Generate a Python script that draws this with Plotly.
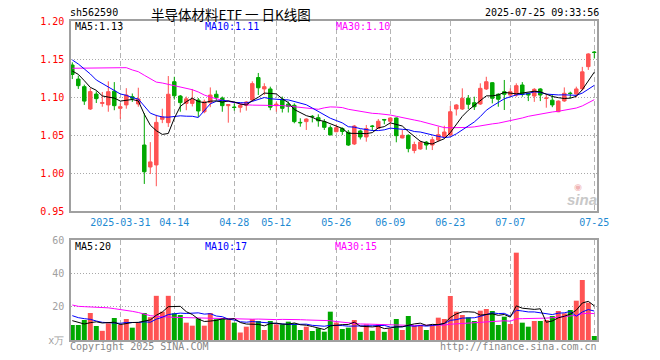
import plotly.graph_objects as go

# ---------------- data ----------------
dates = [
    "2025-03-19", "2025-03-20", "2025-03-21", "2025-03-24", "2025-03-25", "2025-03-26", "2025-03-27", "2025-03-28",
    "2025-03-31", "2025-04-01", "2025-04-02", "2025-04-03", "2025-04-07", "2025-04-08", "2025-04-09", "2025-04-10",
    "2025-04-11", "2025-04-14", "2025-04-15", "2025-04-16", "2025-04-17", "2025-04-18", "2025-04-21", "2025-04-22",
    "2025-04-23", "2025-04-24", "2025-04-25", "2025-04-28", "2025-04-29", "2025-04-30", "2025-05-06", "2025-05-07",
    "2025-05-08", "2025-05-09", "2025-05-12", "2025-05-13", "2025-05-14", "2025-05-15", "2025-05-16", "2025-05-19",
    "2025-05-20", "2025-05-21", "2025-05-22", "2025-05-23", "2025-05-26", "2025-05-27", "2025-05-28", "2025-05-29",
    "2025-05-30", "2025-06-03", "2025-06-04", "2025-06-05", "2025-06-06", "2025-06-09", "2025-06-10", "2025-06-11",
    "2025-06-12", "2025-06-13", "2025-06-16", "2025-06-17", "2025-06-18", "2025-06-19", "2025-06-20", "2025-06-23",
    "2025-06-24", "2025-06-25", "2025-06-26", "2025-06-27", "2025-06-30", "2025-07-01", "2025-07-02", "2025-07-03",
    "2025-07-04", "2025-07-07", "2025-07-08", "2025-07-09", "2025-07-10", "2025-07-11", "2025-07-14", "2025-07-15",
    "2025-07-16", "2025-07-17", "2025-07-18", "2025-07-21", "2025-07-22", "2025-07-23", "2025-07-24", "2025-07-25",
]

opens = [
    1.1425, 1.124, 1.114, 1.0846, 1.1043, 1.092, 1.090, 1.108, 1.0855, 1.090,
    1.1008, 1.0912, 1.0372, 1.0083, 1.011, 1.071, 1.0666, 1.1205, 1.1017, 1.092,
    1.092, 1.0964, 1.081, 1.093, 1.104, 1.099, 1.089, 1.0872, 1.0868, 1.0895,
    1.0965, 1.126, 1.111, 1.111, 1.089, 1.0975, 1.091, 1.0895, 1.067, 1.068,
    1.075, 1.0732, 1.068, 1.060, 1.0547, 1.059, 1.054, 1.0386, 1.0557, 1.0478,
    1.0622, 1.0592, 1.0708, 1.0685, 1.0728, 1.0465, 1.050, 1.030, 1.032, 1.041,
    1.0372, 1.0438, 1.0482, 1.0504, 1.0846, 1.0846, 1.0987, 1.0929, 1.0912, 1.111,
    1.1192, 1.104, 1.1074, 1.103, 1.103, 1.1162, 1.1053, 1.1017, 1.111, 1.0985,
    1.0962, 1.081, 1.0952, 1.1055, 1.1043, 1.111, 1.1403, 1.1595,
]
highs = [
    1.146, 1.1285, 1.1166, 1.112, 1.108, 1.107, 1.121, 1.120, 1.092, 1.112,
    1.105, 1.1126, 1.079, 1.041, 1.077, 1.085, 1.128, 1.127, 1.103, 1.101,
    1.111, 1.099, 1.097, 1.113, 1.109, 1.101, 1.091, 1.092, 1.091, 1.095,
    1.121, 1.132, 1.1185, 1.114, 1.094, 1.101, 1.0945, 1.092, 1.0724, 1.0724,
    1.0767, 1.0776, 1.0714, 1.063, 1.0645, 1.0605, 1.057, 1.0636, 1.0575, 1.0636,
    1.0636, 1.0714, 1.0715, 1.0732, 1.0735, 1.057, 1.0513, 1.0416, 1.043, 1.0425,
    1.048, 1.0613, 1.0626, 1.0886, 1.091, 1.1118, 1.103, 1.1008, 1.1184, 1.127,
    1.120, 1.1053, 1.1228, 1.1118, 1.1184, 1.120, 1.106, 1.112, 1.112, 1.103,
    1.103, 1.096, 1.113, 1.1074, 1.114, 1.140, 1.158, 1.161,
]
lows = [
    1.124, 1.111, 1.090, 1.0833, 1.0925, 1.0876, 1.081, 1.083, 1.0715, 1.085,
    1.094, 1.0876, 0.986, 0.999, 0.983, 1.066, 1.061, 1.097, 1.081, 1.083,
    1.088, 1.074, 1.079, 1.087, 1.096, 1.081, 1.0666, 1.0824, 1.080, 1.0824,
    1.094, 1.103, 1.103, 1.083, 1.081, 1.080, 1.080, 1.0658, 1.0613, 1.057,
    1.067, 1.0613, 1.057, 1.050, 1.054, 1.0505, 1.036, 1.0372, 1.0445, 1.0416,
    1.0557, 1.0583, 1.0645, 1.063, 1.0408, 1.046, 1.0276, 1.0263, 1.031, 1.031,
    1.0306, 1.0416, 1.046, 1.0495, 1.076, 1.0833, 1.0846, 1.0833, 1.0899, 1.1096,
    1.092, 1.0876, 1.0833, 1.1008, 1.1008, 1.1008, 1.095, 1.094, 1.095, 1.0863,
    1.087, 1.0805, 1.094, 1.0987, 1.100, 1.109, 1.136, 1.151,
]
closes = [
    1.130, 1.1153, 1.095, 1.1075, 1.0982, 1.093, 1.1074, 1.089, 1.0876, 1.103,
    1.0987, 1.0978, 1.002, 1.015, 1.067, 1.074, 1.104, 1.102, 1.093, 1.098,
    1.0974, 1.082, 1.094, 1.103, 1.100, 1.089, 1.0905, 1.0866, 1.0895, 1.0938,
    1.118, 1.1125, 1.114, 1.087, 1.091, 1.0855, 1.088, 1.068, 1.0665, 1.0714,
    1.0745, 1.069, 1.0605, 1.0505, 1.060, 1.055, 1.0372, 1.0622, 1.0478, 1.0588,
    1.0617, 1.0685, 1.0702, 1.0728, 1.0495, 1.050, 1.0325, 1.0379, 1.041, 1.0372,
    1.0442, 1.0508, 1.0543, 1.081, 1.0899, 1.0987, 1.0908, 1.0876, 1.1118, 1.1205,
    1.0987, 1.0974, 1.104, 1.1074, 1.1153, 1.104, 1.103, 1.1105, 1.103, 1.099,
    1.090, 1.095, 1.1053, 1.105, 1.111, 1.1335, 1.157, 1.159,
]
volumes = [
    9.0, 9.0, 12.0, 16.2, 8.4, 5.5, 10.0, 13.2, 9.2, 12.6,
    7.4, 10.5, 16.2, 13.7, 26.5, 17.0, 26.5, 16.0, 15.0, 10.4,
    8.6, 13.0, 8.6, 16.2, 12.5, 13.0, 12.0, 10.4, 4.5, 8.0,
    12.5, 11.4, 6.0, 11.4, 9.4, 9.4, 11.0, 10.0, 6.0, 8.0,
    5.4, 7.0, 5.0, 17.0, 10.5, 6.6, 7.4, 12.0, 4.9, 9.4,
    5.5, 9.5, 4.9, 6.8, 12.6, 6.0, 14.4, 8.5, 9.0, 6.0,
    9.0, 13.4, 12.6, 26.4, 17.0, 15.0, 13.6, 11.4, 17.6, 18.6,
    17.4, 9.0, 14.0, 9.6, 52.4, 10.4, 8.0, 11.4, 11.4, 12.0,
    14.4, 17.4, 16.0, 18.0, 23.6, 36.0, 22.4, 2.4,
]

# moving-average values at the left edge (their windows start before the visible range)
ma5_head = [1.1346, 1.1302, 1.1219, 1.1131]
ma10_head = [1.1491, 1.1438, 1.1373, 1.1307, 1.1228, 1.1184, 1.114, 1.1087, 1.1044]
ma30_head = [1.1382, 1.1382, 1.1382, 1.1382, 1.1382, 1.1382, 1.1382, 1.1385, 1.139,
             1.139, 1.136, 1.1337, 1.129, 1.124, 1.120, 1.1188, 1.117, 1.116, 1.114,
             1.112, 1.110, 1.107, 1.103, 1.1003, 1.098, 1.096, 1.0947, 1.093, 1.092]
vma5_head = [11.6, 10.4, 9.6, 10.4]
vma10_head = [14.6, 13.4, 12.8, 12.4, 11.4, 10.6, 10.4, 10.2, 10.0]
vma30_head = [21.0, 20.2, 20.0, 19.9, 19.8, 19.6, 19.3, 18.8, 18.4, 18.0, 17.2, 16.5,
              15.5, 14.6, 14.2, 13.9, 13.7, 13.6, 13.5, 13.4, 13.3, 13.3, 13.2, 13.1,
              13.0, 12.9, 12.8, 12.6, 12.4]

tick_dates = ["2025-03-31", "2025-04-14", "2025-04-28", "2025-05-12", "2025-05-26",
              "2025-06-09", "2025-06-23", "2025-07-07", "2025-07-25"]
tick_labels = ["2025-03-31", "04-14", "04-28", "05-12", "05-26", "06-09", "06-23", "07-07", "07-25"]
price_ticks = [0.95, 1.00, 1.05, 1.10, 1.15, 1.20]
vol_ticks = [0, 20, 40, 60]
vol_tick_labels = ["x万", "20", "40", "60"]

code = "sh562590"
title = "半导体材料ETF 一 日K线图"
stamp = "2025-07-25 09:33:56"
price_ma_labels = ["MA5:1.13", "MA10:1.11", "MA30:1.10"]
vol_ma_labels = ["MA5:20", "MA10:17", "MA30:15"]


def moving_avg(values, n, head):
    out = list(head)
    for i in range(len(head), len(values)):
        out.append(sum(values[i - n + 1:i + 1]) / n)
    return out


ma5 = moving_avg(closes, 5, ma5_head)
ma10 = moving_avg(closes, 10, ma10_head)
ma30 = moving_avg(closes, 30, ma30_head)
vma5 = moving_avg(volumes, 5, vma5_head)
vma10 = moving_avg(volumes, 10, vma10_head)
vma30 = moving_avg(volumes, 30, vma30_head)

# ---------------- style ----------------
RED = "#FF5353"
GREEN = "#00A800"
MONO = "DejaVu Sans Mono"
PAGE = 8                     # the page body adds an 8px margin around the figure
W, H = 660 - PAGE, 360 - PAGE
L, R = 63, 63
PW = W - L - R


def px(x):                   # x in page pixels -> paper
    return (x - PAGE - L) / PW


def py(y):                   # y in page pixels -> paper
    return 1 - (y - PAGE) / H


fig = go.Figure()
fig.add_trace(go.Candlestick(
    x=dates, open=opens, high=highs, low=lows, close=closes,
    increasing=dict(line=dict(color=RED, width=1), fillcolor=RED),
    decreasing=dict(line=dict(color=GREEN, width=1), fillcolor=GREEN),
    whiskerwidth=0, showlegend=False, hoverinfo="skip", xaxis="x", yaxis="y"))
for vals, col in [(ma30, "#FF00FF"), (ma10, "#0000FF"), (ma5, "#000000")]:
    fig.add_trace(go.Scatter(x=dates, y=vals, mode="lines", line=dict(color=col, width=1),
                             showlegend=False, hoverinfo="skip", xaxis="x", yaxis="y"))

bar_colors = [RED if c >= o else GREEN for o, c in zip(opens, closes)]
fig.add_trace(go.Bar(x=dates, y=volumes, marker=dict(color=bar_colors, line=dict(width=0)),
                     width=0.83, showlegend=False, hoverinfo="skip", xaxis="x2", yaxis="y2"))
for vals, col in [(vma30, "#FF00FF"), (vma10, "#0000FF"), (vma5, "#000000")]:
    fig.add_trace(go.Scatter(x=dates, y=vals, mode="lines", line=dict(color=col, width=1),
                             showlegend=False, hoverinfo="skip", xaxis="x2", yaxis="y2"))

xcommon = dict(
    type="category", categoryorder="array", categoryarray=dates,
    range=[-0.217, 87.45], tickmode="array", tickvals=tick_dates,
    showgrid=True, gridcolor="#B4B4B4", gridwidth=1, griddash="5px,3px",
    showline=True, mirror=True, linecolor="#A0A0A0", linewidth=1.5,
    ticks="", zeroline=False, fixedrange=True, automargin=False,
)
yfont = dict(family=MONO, size=10)
fig.update_layout(
    template="none",
    width=W, height=H,
    margin=dict(l=L, r=R, t=0, b=0, pad=0, autoexpand=False),
    paper_bgcolor="white", plot_bgcolor="white",
    boxgap=0.17,
    xaxis=dict(**xcommon, domain=[0, 1], anchor="y", ticktext=tick_labels,
               tickfont=dict(family=MONO, size=10, color="#1E8AD2"),
               ticklabelstandoff=1,
               rangeslider=dict(visible=False)),
    xaxis2=dict(**xcommon, domain=[0, 1], anchor="y2", matches="x", showticklabels=False),
    yaxis=dict(domain=[py(211.3), py(21.3)], range=[0.95, 1.20], tickmode="array",
               tickvals=price_ticks, ticktext=[f"{v:.2f}" for v in price_ticks],
               tickfont=dict(**yfont, color="#FF0000"), ticklabelstandoff=3,
               showgrid=True, gridcolor="#A8A8A8", griddash="1px,2px", gridwidth=1,
               showline=True, mirror=True, linecolor="#A0A0A0", linewidth=1.5,
               zeroline=False, ticks="", fixedrange=True, automargin=False),
    yaxis2=dict(domain=[py(340), py(240)], range=[0, 60], tickmode="array",
                tickvals=vol_ticks, ticktext=vol_tick_labels,
                tickfont=dict(**yfont, color="#A0A0A0"), ticklabelstandoff=3,
                showgrid=True, gridcolor="#A8A8A8", griddash="1px,2px", gridwidth=1,
                showline=True, mirror=True, linecolor="#A0A0A0", linewidth=1.5,
                zeroline=False, ticks="", fixedrange=True, automargin=False),
)


def note(text, x, y, color="#000000", size=10, family=MONO, anchor="left", **kw):
    fig.add_annotation(text=text, x=px(x), y=py(y), xref="paper", yref="paper",
                       xanchor=anchor, yanchor="middle", showarrow=False, borderpad=0,
                       font=dict(family=family, size=size, color=color, **kw))


note(code, 69, 13)
note(title, 230.5, 14.5, size=13.5, family="Noto Sans CJK SC", anchor="center")
note(stamp, 600, 13, anchor="right")
for txt, x, col in zip(price_ma_labels, [74, 204, 335], ["#000000", "#0000FF", "#FF00FF"]):
    note(txt, x, 26.5, color=col)
for txt, x, col in zip(vol_ma_labels, [74, 204, 334], ["#000000", "#0000FF", "#FF00FF"]):
    note(txt, x, 246, color=col)
note("Copyright 2025 SINA.COM", 69, 346, color="#888888")
note("http://finance.sina.com.cn", 598, 346, color="#888888", anchor="right")
note("sina", 582, 199, color="#C8C8C8", size=15, family="Liberation Sans",
     anchor="center", weight="bold", style="italic")
note("◉", 578, 187, color="#F0B4B4", size=9, family="DejaVu Sans", anchor="center")

fig.write_html("out.html")
